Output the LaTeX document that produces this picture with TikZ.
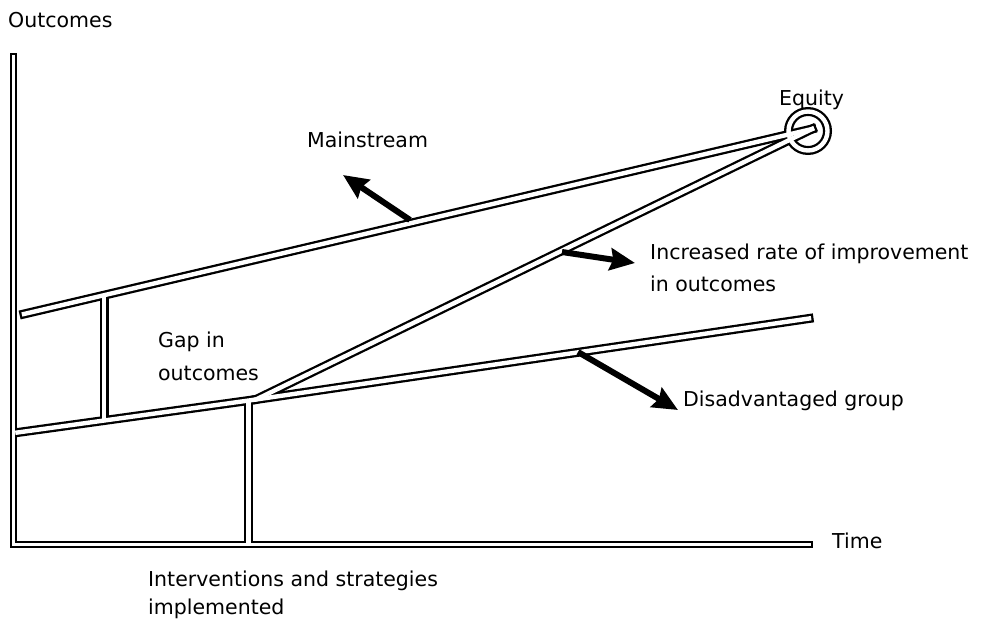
\documentclass[tikz,border=0pt]{standalone}
\usepackage{fontspec}
\setmainfont{DejaVu Sans}
\usetikzlibrary{arrows.meta}
\begin{document}
\begin{tikzpicture}[x=1pt,y=-1pt,
  barout/.style={line width=9pt, line cap=rect, line join=miter, draw=black},
  barin/.style={line width=4.4pt, line cap=rect, line join=miter, draw=white},
  axout/.style={line width=7.5pt, line cap=rect, line join=miter, draw=black},
  axin/.style={line width=3.3pt, line cap=rect, line join=miter, draw=white},
  fatarrow/.style={line width=6pt, draw=black, -{Stealth[length=25pt,width=22pt,inset=3pt]}},
  lbl/.style={anchor=base west, inner sep=0pt, font=\fontsize{20.5}{28}\selectfont}
]
\useasboundingbox (0,0) rectangle (998,623);
% coordinates
\coordinate (ytop) at (13.5,57);
\coordinate (origin) at (13.5,544.5);
\coordinate (xend) at (809,544.5);
\coordinate (mL) at (24,314);
\coordinate (eq) at (812,129);
\coordinate (eqc) at (808,131);
\coordinate (lowL) at (17.5,432.5);
\coordinate (J) at (256,399.5);
\coordinate (dR) at (809,318.5);
\coordinate (v1t) at (104,296);
\coordinate (v1b) at (104,419.5);
\coordinate (v2t) at (248.5,402);
\coordinate (v2b) at (248.5,542);
% black pass
\draw[axout] (ytop) -- (origin) -- (xend);
\draw[barout] (mL) -- (eq);
\draw[barout] (lowL) -- (J) -- (eq);
\draw[barout] (J) -- (dR);
\draw[barout] (v1t) -- (v1b);
\draw[barout] (v2t) -- (v2b);
\draw[barout] (eqc) circle (19.5);
% white pass
\draw[axin] (ytop) -- (origin) -- (xend);
\draw[barin] (mL) -- (eq);
\draw[barin] (lowL) -- (J) -- (eq);
\draw[barin] (J) -- (dR);
\draw[barin] (v1t) -- (v1b);
\draw[barin] (v2t) -- (v2b);
\draw[barin] (eqc) circle (19.5);
% arrows
\coordinate (a1s) at (410,220); \coordinate (a1e) at (343,175);
\coordinate (a2s) at (562,252); \coordinate (a2e) at (635,263);
\coordinate (a3s) at (578,352); \coordinate (a3e) at (678,410);
\draw[fatarrow] (a1s) -- (a1e);
\draw[fatarrow] (a2s) -- (a2e);
\draw[fatarrow] (a3s) -- (a3e);
% labels
\node[lbl] (tOut) at (8,28) {Outcomes};
\node[lbl] (tEq) at (779,106) {Equity};
\node[lbl] (tMain) at (307,147) {Mainstream};
\node[lbl] (tInc1) at (650,259) {Increased rate of improvement};
\node[lbl] (tInc2) at (650,291) {in outcomes};
\node[lbl] (tGap1) at (158,347) {Gap in};
\node[lbl] (tGap2) at (158,380) {outcomes};
\node[lbl] (tDis) at (683,406) {Disadvantaged group};
\node[lbl] (tTime) at (832,548) {Time};
\node[lbl] (tInt1) at (148,586) {Interventions and strategies};
\node[lbl] (tInt2) at (148,614) {implemented};
\end{tikzpicture}
\end{document}
